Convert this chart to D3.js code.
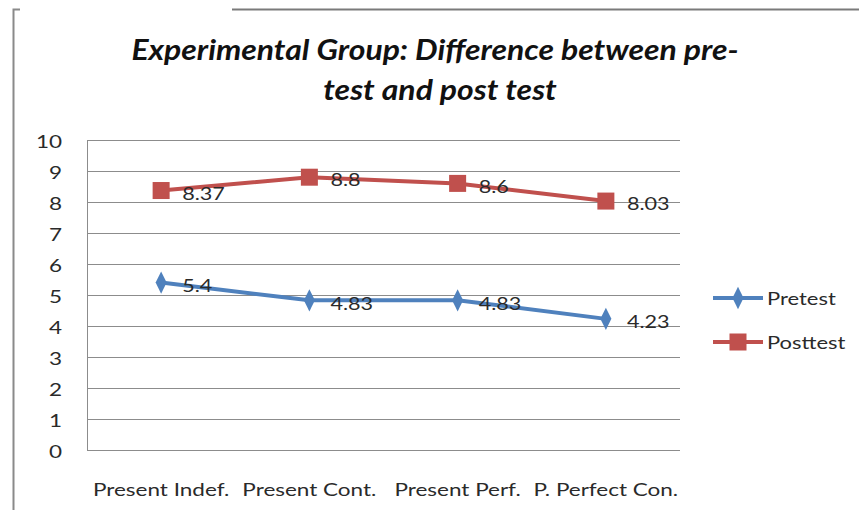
<!DOCTYPE html>
<html><head><meta charset="utf-8">
<script src="https://cdn.jsdelivr.net/npm/d3@7"></script>
<style>body{margin:0;background:#fff}</style>
</head><body>
<svg id="c" width="859" height="518"></svg>
<script>
const categories = ["Present Indef.", "Present Cont.", "Present Perf.", "P. Perfect Con."];
const pretest = [5.4, 4.83, 4.83, 4.23];
const posttest = [8.37, 8.8, 8.6, 8.03];
const yTicks = [0,1,2,3,4,5,6,7,8,9,10];
const seriesNames = ["Pretest", "Posttest"];
const colors = ["#4F81BD", "#C0504D"];
const titleLines = ["Experimental Group: Difference between pre-", "test and post test"];

const svg = d3.select("#c");
const font = "Lato, 'Open Sans', sans-serif";
const L = 87, R = 680, T = 140, B = 450;
const SX = 1.25;

// stretch text horizontally around its own anchor
function stretch(sel, s) {
  sel.each(function() {
    const t = d3.select(this);
    const xv = +t.attr("x") || 0, yv = +t.attr("y") || 0;
    t.attr("x", 0).attr("y", 0).attr("transform", `translate(${xv},${yv}) scale(${s},1)`);
  });
}

// outer frame fragments
svg.append("path").attr("d","M20,9.5H13.5V510").attr("fill","none").attr("stroke","#8a8a8a").attr("stroke-width",2);
svg.append("line").attr("x1",232).attr("x2",859).attr("y1",9.5).attr("y2",9.5).attr("stroke","#7a7a7a").attr("stroke-width",2);

const x = d3.scaleBand().domain(categories).range([L, R]);
const y = d3.scaleLinear().domain([0,10]).range([B, T]);

// gridlines
svg.append("g").selectAll("line").data(yTicks).join("line")
  .attr("x1", L).attr("x2", R)
  .attr("y1", d => Math.round(y(d))+0.5).attr("y2", d => Math.round(y(d))+0.5)
  .attr("stroke", "#8c8c8c").attr("stroke-width", 1);
svg.append("line").attr("x1",L+0.5).attr("x2",L+0.5).attr("y1",T).attr("y2",B).attr("stroke","#8c8c8c");

// y axis labels
const yAxis = d3.axisLeft(y).tickValues(yTicks).tickSize(0).tickPadding(25);
const ya = svg.append("g").attr("transform",`translate(${L},0)`).call(yAxis);
ya.select(".domain").remove();
ya.selectAll("text").attr("font-family", font).attr("font-size", 18).attr("fill","#2a2a2a")
  .attr("dy", null).attr("dominant-baseline","central");
stretch(ya.selectAll("text"), SX);

// x axis labels
const xAxis = d3.axisBottom(x).tickSize(0).tickPadding(0);
const xa = svg.append("g").attr("transform",`translate(0,${B})`).call(xAxis);
xa.select(".domain").remove();
xa.selectAll("text").attr("font-family", font).attr("font-size", 18).attr("fill","#2a2a2a")
  .attr("dy", null).attr("y", 46);
stretch(xa.selectAll("text"), SX);

const cx = d => x(d) + x.bandwidth()/2;
const data = [pretest, posttest];
const line = d3.line().x((d,i) => cx(categories[i])).y(d => y(d));

data.forEach((vals, si) => {
  svg.append("path").datum(vals).attr("d", line).attr("fill","none")
    .attr("stroke", colors[si]).attr("stroke-width", 4).attr("stroke-linejoin","round");
  const g = svg.append("g");
  if (si === 0) {
    g.selectAll("path.m").data(vals).join("path")
      .attr("d", d3.symbol(d3.symbolDiamond, 130)())
      .attr("transform", (d,i) => `translate(${cx(categories[i])},${y(d)}) scale(0.9,1.05)`)
      .attr("fill", colors[si]);
  } else {
    g.selectAll("rect").data(vals).join("rect")
      .attr("x", (d,i) => cx(categories[i]) - 8.5).attr("y", d => y(d) - 8.5)
      .attr("width", 17).attr("height", 17).attr("fill", colors[si]);
  }
  const lt = svg.append("g").selectAll("text").data(vals).join("text")
    .attr("x", (d,i) => cx(categories[i]) + 21).attr("y", d => y(d) + 2)
    .attr("dominant-baseline","central")
    .attr("font-family", font).attr("font-size", 18).attr("fill","#2a2a2a")
    .text(d => String(d));
  stretch(lt, 1.2);
});

// legend
const lg = svg.append("g");
seriesNames.forEach((n, i) => {
  const ly = 298 + i*44;
  lg.append("line").attr("x1",713).attr("x2",763).attr("y1",ly).attr("y2",ly).attr("stroke",colors[i]).attr("stroke-width",4);
  if (i === 0) {
    lg.append("path").attr("d", d3.symbol(d3.symbolDiamond, 130)()).attr("transform",`translate(738,${ly}) scale(0.9,1.05)`).attr("fill",colors[i]);
  } else {
    lg.append("rect").attr("x",729.5).attr("y",ly-8.5).attr("width",17).attr("height",17).attr("fill",colors[i]);
  }
  const tx = lg.append("text").attr("x",767).attr("y",ly).attr("dominant-baseline","central")
    .attr("font-family",font).attr("font-size",18).attr("fill","#2a2a2a").text(n);
  stretch(tx, 1.22);
});

// title
const tt = svg.append("g").selectAll("text").data(titleLines).join("text")
  .attr("x", (d,i) => i === 0 ? 435 : 440).attr("y", (d,i) => 60 + i*40)
  .attr("text-anchor","middle").attr("font-family", font)
  .attr("font-size", 28).attr("font-weight","bold").attr("font-style","italic").attr("fill","#111")
  .text(d => d);
stretch(tt, 1.14);
</script>
</body></html>
